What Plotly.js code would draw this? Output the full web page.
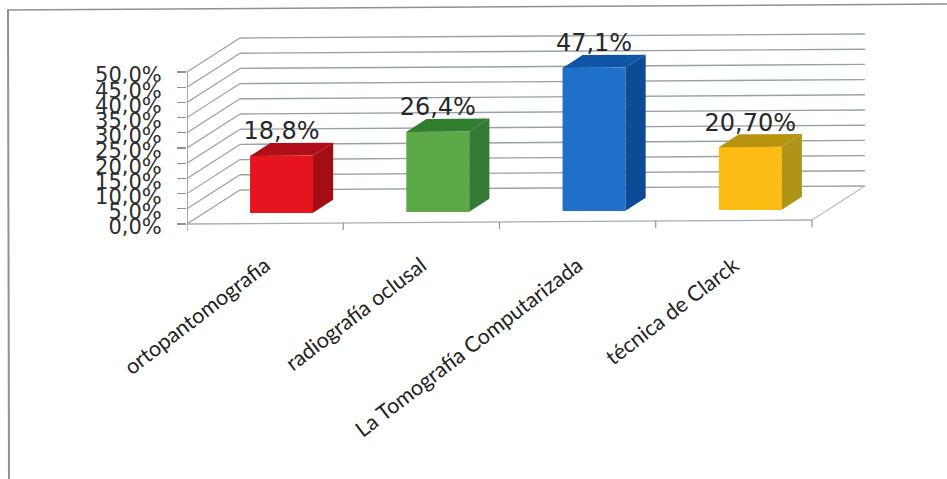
<!DOCTYPE html>
<html>
<head>
<meta charset="utf-8">
<script src="https://cdn.plot.ly/plotly-3.0.1.min.js"></script>
<style>html,body{margin:0;padding:0;background:#fff}#chart{width:947px;height:479px}</style>
</head>
<body>
<div id="chart"></div>
<script>
// Survey results: imaging technique, percentage of cases
const categories = ['ortopantomografia', 'radiografía oclusal', 'La Tomografía Computarizada', 'técnica de Clarck'];
const values = [18.8, 26.4, 47.1, 20.7];
const valueLabels = ['18,8%', '26,4%', '47,1%', '20,70%'];
const frontColors = ['#e5141f', '#5ba947', '#1f70c9', '#fcbc14'];
const topColors = ['#b00f18', '#2f7f2e', '#0f55a5', '#b8930f'];
const sideColors = ['#a30e15', '#347a35', '#0c4c96', '#ad9416'];
const tickValues = [0, 5, 10, 15, 20, 25, 30, 35, 40, 45, 50];
const tickLabels = ['0,0%', '5,0%', '10,0%', '15,0%', '20,0%', '25,0%', '30,0%', '35,0%', '40,0%', '45,0%', '50,0%'];

// Oblique projection of the box scene onto the flat axes.
// c: category position, d: depth 0..1 from front to back wall, v: percent.
const depthX = 0.339, depthY = 11.18, tilt = 0.33;
const sx = (c, d) => c + d * depthX;
const sy = (c, d, v) => v + d * depthY + c * tilt;

const barWidth = 0.403;
const barFront = 0.31, barBack = 0.69;
const nCat = categories.length;

const traces = [];
const shapes = [];
const gridColor = '#98a2a6';

function seg(c0, d0, v0, c1, d1, v1, color, width) {
  shapes.push({type: 'line', layer: 'below', xref: 'x', yref: 'y',
    x0: sx(c0, d0), y0: sy(c0, d0, v0), x1: sx(c1, d1), y1: sy(c1, d1, v1),
    line: {color: color, width: width}});
}

// Wall grid lines and floor outline
tickValues.forEach(v => {
  seg(0, 0, v, 0, 1, v, gridColor, 1.2);
  seg(0, 1, v, nCat, 1, v, gridColor, 1.4);
});
seg(0, 0, 0, nCat, 0, 0, '#a5adb0', 1.3);
seg(nCat, 0, 0, nCat, 1, 0, '#b9bdbf', 1.1);
seg(0, 0, 0, 0, 0, 50, '#8b9599', 1.6);
for (let i = 0; i <= nCat; i++) seg(i, 0, 0, i, 0, -2.3, '#8b9599', 1.2);

// Front faces of the columns
const centres = categories.map((_, i) => i + 0.5);
traces.push({
  type: 'bar',
  x: centres.map(c => sx(c, barFront)),
  y: values,
  base: centres.map(c => sy(c, barFront, 0)),
  width: barWidth,
  marker: {color: frontColors, line: {width: 0}},
  hoverinfo: 'skip'
});

// Top and side faces
function face(points, color) {
  traces.push({
    type: 'scatter', mode: 'none', fill: 'toself', fillcolor: color,
    x: points.map(p => sx(p[0], p[1])),
    y: points.map(p => sy(p[0], p[1], p[2])),
    hoverinfo: 'skip'
  });
}
values.forEach((v, i) => {
  const l = centres[i] - barWidth / 2, r = centres[i] + barWidth / 2;
  face([[l, barFront, v], [r, barFront, v], [r, barBack, v], [l, barBack, v]], topColors[i]);
  face([[r, barFront, 0], [r, barBack, 0], [r, barBack, v], [r, barFront, v]], sideColors[i]);
});

// Value labels above each column
traces.push({
  type: 'scatter', mode: 'text',
  x: centres.map(c => sx(c, barFront)),
  y: values.map((v, i) => sy(centres[i], barFront, v) + 7.4),
  text: valueLabels,
  textposition: 'middle center',
  textfont: {family: 'DejaVu Sans', size: 24, color: '#26282a'},
  cliponaxis: false,
  hoverinfo: 'skip'
});

const pxPerCat = 156.25, pxPerPct = 3.04;
const plotLeft = 187, plotRight = 880, plotTop = 20, plotBottom = 240, zeroY = 224;
const plotW = plotRight - plotLeft, plotH = plotBottom - plotTop;
const paperX = px => (px - plotLeft) / plotW;
const paperY = py => (plotBottom - py) / plotH;

// Outer frame: the top and left edges only
function frameLine(x0, y0, x1, y1, width) {
  return {type: 'line', xref: 'paper', yref: 'paper', layer: 'below',
    x0: paperX(x0), y0: paperY(y0), x1: paperX(x1), y1: paperY(y1),
    line: {color: '#8d9295', width: width}};
}

const layout = {
  width: 947, height: 479,
  margin: {l: plotLeft, r: 947 - plotRight, t: plotTop, b: 479 - plotBottom, pad: 0},
  paper_bgcolor: '#ffffff',
  plot_bgcolor: 'rgba(0,0,0,0)',
  showlegend: false,
  xaxis: {
    range: [0, plotW / pxPerCat],
    showgrid: false, zeroline: false, showline: false, ticks: '',
    tickmode: 'array', tickvals: centres, ticktext: categories,
    tickangle: -37.5,
    ticklabelstandoff: 8,
    tickfont: {family: 'Lato', size: 21.5, color: '#222222'}
  },
  yaxis: {
    range: [(zeroY - plotBottom) / pxPerPct, (zeroY - plotTop) / pxPerPct],
    showgrid: false, zeroline: false, showline: false,
    ticks: 'outside', ticklen: 9, tickwidth: 1.2, tickcolor: '#8b9599',
    tickmode: 'array', tickvals: tickValues, ticktext: tickLabels,
    ticklabelstandoff: 11,
    ticklabelshift: 3,
    tickfont: {family: 'DejaVu Sans', size: 21, color: '#2b2d2f'}
  },
  shapes: shapes.concat([
    frameLine(7, 10, 947, 4, 1.5),
    frameLine(8, 10, 9, 479, 2)
  ])
};

Plotly.newPlot('chart', traces, layout, {displayModeBar: false, staticPlot: true});
</script>
</body>
</html>
